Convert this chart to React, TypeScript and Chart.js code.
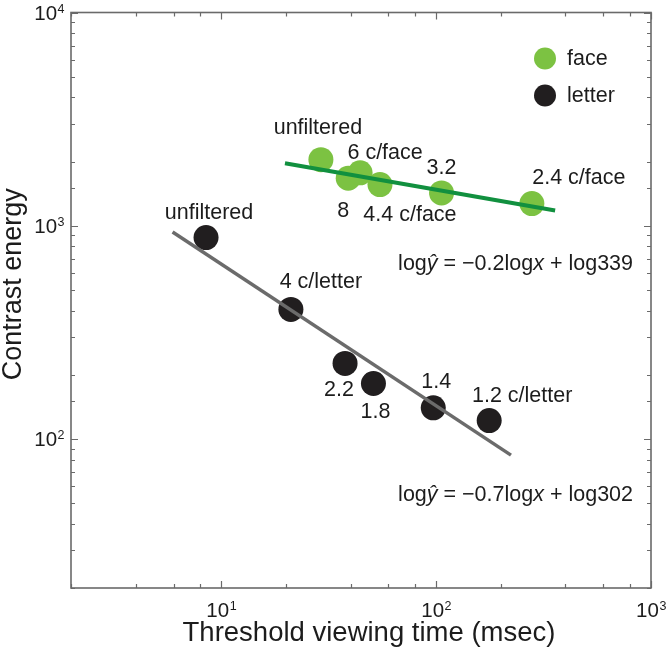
import React, { useEffect, useRef } from 'react';
import { Chart, registerables } from 'chart.js';

Chart.register(...registerables);

// ---------- data ----------
const SERIES_NAMES = ['face', 'letter'];

const FACE_X = [29.1, 39.0, 44.3, 54.8, 106, 279];
const FACE_Y = [2040, 1670, 1770, 1560, 1425, 1270];
const FACE_LABELS = ['unfiltered', '8', '6 c/face', '4.4 c/face', '3.2', '2.4 c/face'];

const LETTER_X = [8.5, 21.1, 37.7, 51.1, 97, 176.6];
const LETTER_Y = [880, 405, 226, 182, 140, 122];
const LETTER_LABELS = ['unfiltered', '4 c/letter', '2.2', '1.8', '1.4', '1.2 c/letter'];

const FACE_FIT_X = [19.8, 358];
const FACE_FIT_Y = [1965, 1178];
const LETTER_FIT_X = [5.94, 223];
const LETTER_FIT_Y = [935, 84];

const X_TICKS = [10, 100, 1000];
const Y_TICKS = [100, 1000, 10000];

const X_TITLE = 'Threshold viewing time (msec)';
const Y_TITLE = 'Contrast energy';

// [text, italic]
const FACE_EQ: [string, boolean][] = [['log', false], ['ŷ', true], [' = \u22120.2log', false], ['x', true], [' + log339', false]];
const LETTER_EQ: [string, boolean][] = [['log', false], ['ŷ', true], [' = \u22120.7log', false], ['x', true], [' + log302', false]];

// ---------- styles ----------
const FONT = '"Liberation Sans", Arial, Helvetica, sans-serif';
const GREEN_PT = '#7cc242';
const GREEN_LINE = '#11903f';
const BLACK_PT = '#211e1f';
const GRAY_LINE = '#6b6b6b';
const AXIS = '#6a6a6a';
const TEXT = '#1c1c1c';

const FACE_OFFSETS = [[-3, -32], [-5, 33], [25, -20], [30, 31], [0, -25], [47, -26]];
const LETTER_OFFSETS = [[3, -24], [30, -27], [-6, 27], [2, 29], [3, -26], [33, -24]];

const isPow10 = (v: number) => Math.abs(Math.log10(v) - Math.round(Math.log10(v))) < 1e-9;

function drawRich(ctx: CanvasRenderingContext2D, parts: [string, boolean][], rightX: number, baseY: number, size: number) {
  const widths = parts.map(([t, it]) => {
    ctx.font = `${it ? 'italic ' : ''}${size}px ${FONT}`;
    return ctx.measureText(t).width;
  });
  const total = widths.reduce((a, b) => a + b, 0);
  let x = rightX - total;
  ctx.textAlign = 'left';
  ctx.textBaseline = 'alphabetic';
  parts.forEach(([t, it], i) => {
    ctx.font = `${it ? 'italic ' : ''}${size}px ${FONT}`;
    ctx.fillText(t, x, baseY);
    x += widths[i];
  });
}

const annotatePlugin = {
  id: 'annotate',
  afterDraw(chart: any) {
    const ctx: CanvasRenderingContext2D = chart.ctx;
    const { left, right, top, bottom } = chart.chartArea;
    const xs = chart.scales.x;
    const ys = chart.scales.y;
    ctx.save();

    // frame
    ctx.strokeStyle = AXIS;
    ctx.lineWidth = 1.6;
    ctx.strokeRect(left, top, right - left, bottom - top);

    // inward ticks on all sides
    ctx.lineWidth = 1.2;
    ctx.beginPath();
    xs.ticks.forEach((t: any) => {
      const px = Math.round(xs.getPixelForValue(t.value)) + 0.5;
      const len = isPow10(t.value) ? 7 : 4;
      ctx.moveTo(px, bottom); ctx.lineTo(px, bottom - len);
      ctx.moveTo(px, top); ctx.lineTo(px, top + len);
    });
    ys.ticks.forEach((t: any) => {
      const py = Math.round(ys.getPixelForValue(t.value)) + 0.5;
      const len = isPow10(t.value) ? 7 : 4;
      ctx.moveTo(left, py); ctx.lineTo(left + len, py);
      ctx.moveTo(right, py); ctx.lineTo(right - len, py);
    });
    ctx.stroke();

    // tick labels 10^n
    ctx.fillStyle = TEXT;
    const baseSize = 20.5;
    const expSize = 12.5;
    X_TICKS.forEach((v) => {
      const px = xs.getPixelForValue(v);
      const e = String(Math.round(Math.log10(v)));
      ctx.font = `${baseSize}px ${FONT}`;
      const wb = ctx.measureText('10').width;
      ctx.font = `${expSize}px ${FONT}`;
      const we = ctx.measureText(e).width;
      const x0 = px - (wb + we) / 2;
      const base = bottom + 28.5;
      ctx.textAlign = 'left';
      ctx.textBaseline = 'alphabetic';
      ctx.font = `${baseSize}px ${FONT}`;
      ctx.fillText('10', x0, base);
      ctx.font = `${expSize}px ${FONT}`;
      ctx.fillText(e, x0 + wb + 0.5, base - 7);
    });
    Y_TICKS.forEach((v) => {
      const py = ys.getPixelForValue(v);
      const e = String(Math.round(Math.log10(v)));
      ctx.font = `${expSize}px ${FONT}`;
      const we = ctx.measureText(e).width;
      ctx.font = `${baseSize}px ${FONT}`;
      const wb = ctx.measureText('10').width;
      const xr = left - 6.5;
      const base = py + 7.5;
      ctx.textAlign = 'left';
      ctx.textBaseline = 'alphabetic';
      ctx.fillText('10', xr - we - wb - 0.5, base);
      ctx.font = `${expSize}px ${FONT}`;
      ctx.fillText(e, xr - we, base - 7);
    });

    // axis titles
    ctx.textAlign = 'center';
    ctx.textBaseline = 'alphabetic';
    ctx.font = `27.5px ${FONT}`;
    ctx.fillText(X_TITLE, (left + right) / 2 + 8, bottom + 53);
    ctx.save();
    ctx.font = `27px ${FONT}`;
    ctx.translate(left - 50, (top + bottom) / 2 - 16);
    ctx.rotate(-Math.PI / 2);
    ctx.fillText(Y_TITLE, 0, 0);
    ctx.restore();

    // point labels
    const labelSize = 21.5;
    ctx.font = `${labelSize}px ${FONT}`;
    ctx.textAlign = 'center';
    ctx.textBaseline = 'middle';
    const groups = [
      { idx: 2, labels: FACE_LABELS, offs: FACE_OFFSETS },
      { idx: 3, labels: LETTER_LABELS, offs: LETTER_OFFSETS },
    ];
    groups.forEach((g) => {
      const meta = chart.getDatasetMeta(g.idx);
      meta.data.forEach((el: any, i: number) => {
        ctx.fillText(g.labels[i], el.x + g.offs[i][0], el.y + g.offs[i][1]);
      });
    });

    // equations
    drawRich(ctx, FACE_EQ, right - 18, top + 257, labelSize);
    drawRich(ctx, LETTER_EQ, right - 18, top + 488, labelSize);

    // legend
    const legendColors = [GREEN_PT, BLACK_PT];
    SERIES_NAMES.forEach((name, i) => {
      const cy = top + 46 + i * 37;
      const cx = right - 106;
      ctx.fillStyle = legendColors[i];
      ctx.beginPath();
      ctx.arc(cx, cy, 11, 0, Math.PI * 2);
      ctx.fill();
      ctx.fillStyle = TEXT;
      ctx.font = `${labelSize}px ${FONT}`;
      ctx.textAlign = 'left';
      ctx.textBaseline = 'alphabetic';
      ctx.fillText(name, cx + 22, cy + 6.5);
    });

    ctx.restore();
  },
};

export default function App() {
  const ref = useRef<HTMLCanvasElement | null>(null);

  useEffect(() => {
    document.body.style.margin = '0';
    const canvas = ref.current;
    if (!canvas) return;
    const chart = new Chart(canvas, {
      type: 'scatter',
      data: {
        datasets: [
          {
            label: 'face fit',
            data: FACE_FIT_X.map((x, i) => ({ x, y: FACE_FIT_Y[i] })),
            showLine: true,
            borderColor: GREEN_LINE,
            borderWidth: 4,
            pointRadius: 0,
            order: 0,
          },
          {
            label: 'letter fit',
            data: LETTER_FIT_X.map((x, i) => ({ x, y: LETTER_FIT_Y[i] })),
            showLine: true,
            borderColor: GRAY_LINE,
            borderWidth: 3.5,
            pointRadius: 0,
            order: 0,
          },
          {
            label: SERIES_NAMES[0],
            data: FACE_X.map((x, i) => ({ x, y: FACE_Y[i] })),
            backgroundColor: GREEN_PT,
            borderWidth: 0,
            pointRadius: 12.5,
            pointHoverRadius: 12.5,
            order: 1,
          },
          {
            label: SERIES_NAMES[1],
            data: LETTER_X.map((x, i) => ({ x, y: LETTER_Y[i] })),
            backgroundColor: BLACK_PT,
            borderWidth: 0,
            pointRadius: 12.5,
            pointHoverRadius: 12.5,
            order: 1,
          },
        ],
      },
      options: {
        responsive: false,
        animation: false,
        events: [],
        layout: { padding: { left: 71, right: 16, top: 8, bottom: 64 } },
        plugins: { legend: { display: false }, tooltip: { enabled: false } },
        scales: {
          x: { type: 'logarithmic', min: 2, max: 1000, display: false },
          y: { type: 'logarithmic', min: 20, max: 10000, display: false },
        },
      },
      plugins: [annotatePlugin],
    });
    return () => chart.destroy();
  }, []);

  return (
    <div style={{ width: 667, height: 652, overflow: 'hidden' }}>
      <canvas ref={ref} width={667} height={652} style={{ display: 'block' }} />
    </div>
  );
}
